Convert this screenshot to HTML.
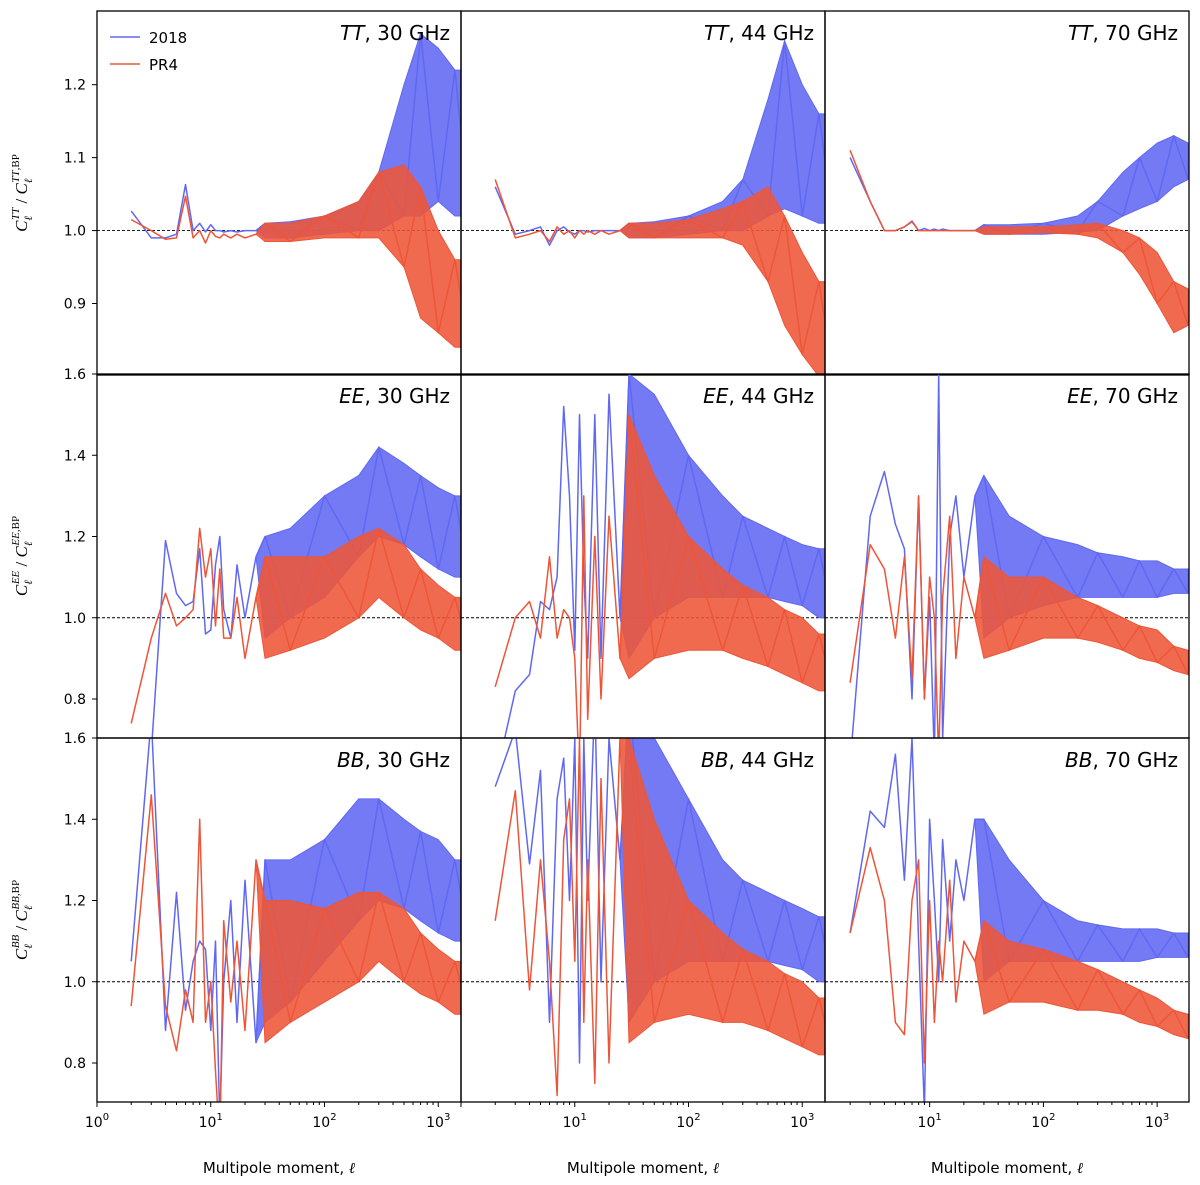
<!DOCTYPE html>
<html><head><meta charset="utf-8"><style>
html,body{margin:0;padding:0;background:#fff;}
svg{display:block;font-family:"DejaVu Sans","Liberation Sans",sans-serif;}
</style></head><body>
<svg id="chart" width="1200" height="1185" viewBox="0 0 1200 1185" xmlns="http://www.w3.org/2000/svg"></svg>
<script>
const NS="http://www.w3.org/2000/svg";
const lowL=[2,3,4,5,6,7,8,9,10,11,12,13,15,17,20,25];
const bandL=[30,50,100,200,300,500,700,1000,1400,1870];
const specs=["TT","EE","BB"];
const freqs=["30","44","70"];
const blueLow=[
 [[1.027,0.99,0.99,0.995,1.063,1.0,1.01,0.998,1.008,1.0,1.0,0.998,1.0,0.998,1.0,1.0],
  [1.06,0.995,1.0,1.005,0.98,1.0,1.005,0.998,0.995,1.0,1.0,0.998,1.0,1.0,1.0,1.0],
  [1.10,1.04,1.0,1.0,1.005,1.013,1.0,1.003,1.0,1.002,1.0,1.002,1.0,1.0,1.0,1.0]],
 [[0.6,0.67,1.19,1.06,1.03,1.04,1.17,0.96,0.97,1.13,1.2,1.02,0.95,1.13,1.0,1.15],
  [0.6,0.82,0.86,1.04,1.02,1.1,1.52,1.3,0.92,1.5,1.1,0.9,1.5,0.9,1.55,1.0],
  [0.64,1.25,1.36,1.23,1.17,0.8,1.3,0.8,1.05,0.65,1.6,0.7,1.2,1.3,1.1,1.3]],
 [[1.05,1.65,0.88,1.22,0.93,1.05,1.1,1.08,0.88,1.1,0.65,1.0,1.2,0.9,1.25,0.85],
  [1.48,1.62,1.29,1.52,0.9,1.45,1.55,1.2,1.6,0.8,1.6,1.2,1.7,1.0,1.6,1.3],
  [1.12,1.42,1.38,1.56,1.25,1.6,1.1,0.68,1.4,1.2,1.0,1.35,1.1,1.3,1.2,1.4]]];
const blueLo=[
 [[0.99,0.99,0.995,1.0,1.0,1.02,1.02,1.04,1.02,1.02],[0.99,0.99,0.995,1.0,1.0,1.02,1.03,1.02,1.01,1.01],[0.995,0.995,0.995,0.998,1.0,1.02,1.03,1.04,1.06,1.07]],
 [[0.95,1.0,1.05,1.15,1.2,1.18,1.15,1.12,1.1,1.1],[0.9,1.0,1.05,1.05,1.05,1.05,1.04,1.03,1.0,1.0],[0.95,1.0,1.03,1.05,1.05,1.05,1.05,1.05,1.06,1.06]],
 [[0.9,0.95,1.05,1.15,1.2,1.18,1.15,1.12,1.1,1.1],[0.9,1.0,1.05,1.05,1.05,1.05,1.04,1.03,1.0,1.0],[1.0,1.05,1.05,1.05,1.05,1.05,1.05,1.06,1.06,1.06]]];
const blueHi=[
 [[1.01,1.012,1.02,1.04,1.08,1.2,1.27,1.25,1.22,1.22],[1.01,1.012,1.02,1.04,1.07,1.18,1.26,1.2,1.16,1.16],[1.008,1.008,1.01,1.02,1.04,1.08,1.1,1.12,1.13,1.12]],
 [[1.2,1.22,1.3,1.35,1.42,1.38,1.35,1.32,1.3,1.3],[1.6,1.55,1.4,1.3,1.25,1.22,1.2,1.18,1.17,1.17],[1.35,1.25,1.2,1.18,1.16,1.15,1.14,1.14,1.12,1.12]],
 [[1.3,1.3,1.35,1.45,1.45,1.4,1.37,1.35,1.3,1.3],[1.7,1.6,1.45,1.3,1.25,1.22,1.2,1.18,1.16,1.16],[1.4,1.3,1.2,1.15,1.14,1.13,1.13,1.13,1.12,1.12]]];
const redLow=[
 [[1.015,1.0,0.988,0.99,1.047,0.99,1.0,0.983,1.0,0.992,0.99,0.995,0.99,0.995,0.99,0.995],
  [1.07,0.99,0.995,1.0,0.985,1.005,0.995,1.0,0.99,1.0,0.995,1.0,0.995,1.0,0.995,1.0],
  [1.11,1.04,1.0,1.0,1.005,1.012,1.0,1.0,1.0,1.0,1.0,1.0,1.0,1.0,1.0,1.0]],
 [[0.74,0.95,1.06,0.98,1.0,1.02,1.22,1.1,1.17,0.98,1.12,0.95,0.95,1.05,0.9,1.05],
  [0.83,1.0,1.04,0.95,1.15,0.95,1.02,1.0,0.9,0.6,1.3,0.75,1.2,0.8,1.25,0.9],
  [0.84,1.18,1.12,0.95,1.15,0.85,1.3,0.8,1.1,1.0,0.65,1.05,1.25,0.9,1.1,1.0]],
 [[0.94,1.46,0.94,0.83,0.98,0.9,1.4,0.9,1.0,0.78,0.6,1.15,0.95,1.1,0.88,1.3],
  [1.15,1.47,0.98,1.3,1.05,0.72,1.35,1.45,1.05,1.6,0.9,1.3,0.75,1.5,0.8,1.6],
  [1.12,1.33,1.2,0.9,0.87,1.2,1.3,0.8,1.2,0.9,1.1,1.0,1.25,0.95,1.1,1.05]]];
const redLo=[
 [[0.985,0.985,0.99,0.99,0.99,0.95,0.88,0.86,0.84,0.84],[0.99,0.99,0.99,0.99,0.98,0.93,0.87,0.83,0.8,0.8],[0.995,0.995,0.997,0.995,0.99,0.97,0.94,0.9,0.86,0.87]],
 [[0.9,0.92,0.95,1.0,1.05,1.0,0.97,0.95,0.92,0.92],[0.85,0.9,0.92,0.92,0.9,0.88,0.86,0.84,0.82,0.82],[0.9,0.92,0.95,0.95,0.94,0.92,0.9,0.89,0.87,0.86]],
 [[0.85,0.9,0.95,1.0,1.05,1.0,0.97,0.95,0.92,0.92],[0.85,0.9,0.92,0.9,0.9,0.88,0.86,0.84,0.82,0.82],[0.92,0.95,0.95,0.93,0.93,0.92,0.9,0.89,0.87,0.86]]];
const redHi=[
 [[1.01,1.01,1.02,1.04,1.08,1.09,1.06,1.0,0.96,0.96],[1.01,1.01,1.015,1.03,1.04,1.06,1.02,0.97,0.93,0.93],[1.005,1.005,1.005,1.008,1.01,1.0,0.99,0.97,0.93,0.92]],
 [[1.15,1.15,1.15,1.2,1.22,1.18,1.12,1.08,1.05,1.05],[1.5,1.35,1.2,1.12,1.08,1.05,1.02,1.0,0.96,0.96],[1.15,1.1,1.1,1.05,1.03,1.0,0.98,0.97,0.93,0.92]],
 [[1.2,1.2,1.18,1.22,1.22,1.18,1.12,1.08,1.05,1.05],[1.6,1.4,1.2,1.12,1.08,1.05,1.02,1.0,0.96,0.96],[1.15,1.1,1.08,1.05,1.03,1.0,0.98,0.96,0.93,0.92]]];
const yTicks=[[0.9,1.0,1.1,1.2],[0.8,1.0,1.2,1.4,1.6],[0.8,1.0,1.2,1.4,1.6]];
const yRange=[[0.802,1.301],[0.704,1.6],[0.704,1.6]];
const xTickExp=[[0,1,2,3],[1,2,3],[1,2,3]];

const colX=[97,461,825], colW=364;
const rowY=[11,374,738], rowH=364;
const xDom=[[0,3.2],[0,3.2],[0.08,3.28]];
const BLUE="#6068f2", RED="#ee5538";
const svg=document.getElementById('chart');
function mk(tag,attrs,parent){const e=document.createElementNS(NS,tag);for(const k in attrs)e.setAttribute(k,attrs[k]);(parent||svg).appendChild(e);return e;}
function xs(c,l){const d=xDom[c];return colX[c]+(Math.log10(l)-d[0])/(d[1]-d[0])*colW;}
function ys(r,v){const d=yRange[r];return rowY[r]+rowH-(v-d[0])/(d[1]-d[0])*rowH;}

const defs=mk('defs',{});
for(let r=0;r<3;r++)for(let c=0;c<3;c++){
  const cp=mk('clipPath',{id:'cp'+r+c},defs);
  mk('rect',{x:colX[c],y:rowY[r],width:colW,height:rowH},cp);
}

for(let r=0;r<3;r++)for(let c=0;c<3;c++){
  const g=mk('g',{'clip-path':'url(#cp'+r+c+')'});
  
  
  const ref=mk('line',{x1:colX[c],x2:colX[c]+colW,y1:ys(r,1),y2:ys(r,1),stroke:'#000','stroke-width':0.9,'stroke-dasharray':'3,2'},g);
  
  
  const series=[[blueLow,blueLo,blueHi,BLUE,'2018'],[redLow,redLo,redHi,RED,'pr4']];
  for(const [low,lo,hi,col,nm] of series){
    const L=low[r][c], LO=lo[r][c], HI=hi[r][c];
    let d='';
    lowL.forEach((l,i)=>{d+=(i?'L':'M')+xs(c,l).toFixed(1)+','+ys(r,L[i]).toFixed(1);});
    bandL.forEach((l,i)=>{const v=i%2?LO[i]:HI[i];d+='L'+xs(c,l).toFixed(1)+','+ys(r,v).toFixed(1);});
    const p=mk('path',{d:d,fill:'none',stroke:col,'stroke-width':1.5,'stroke-linejoin':'round'},g);
    
    
    const lastL=lowL[lowL.length-1], lastV=L[L.length-1];
    let bd='M'+xs(c,lastL).toFixed(1)+','+ys(r,lastV).toFixed(1);
    bandL.forEach((l,i)=>{bd+='L'+xs(c,l).toFixed(1)+','+ys(r,HI[i]).toFixed(1);});
    for(let i=bandL.length-1;i>=0;i--)bd+='L'+xs(c,bandL[i]).toFixed(1)+','+ys(r,LO[i]).toFixed(1);
    bd+='Z';
    const b=mk('path',{d:bd,fill:col,'fill-opacity':0.88,stroke:col,'stroke-width':1},g);
    
    
  }
  const fr=mk('rect',{x:colX[c],y:rowY[r],width:colW,height:rowH,fill:'none',stroke:'#000','stroke-width':1.3});
  
  
  const t=mk('text',{x:colX[c]+colW-11,y:rowY[r]+29,'text-anchor':'end','font-size':20,fill:'#000'});
  
  
  const ti=mk('tspan',{'font-style':'italic'},t);ti.textContent=specs[r];
  const t2=mk('tspan',{},t);t2.textContent=', '+freqs[c]+' GHz';
}

for(let r=0;r<3;r++){
  yTicks[r].forEach(v=>{
    const y=ys(r,v);
    mk('line',{x1:92,x2:97,y1:y,y2:y,stroke:'#000','stroke-width':1});
    const t=mk('text',{x:86,y:y+5,'text-anchor':'end','font-size':14,fill:'#000'});
    
    
    t.textContent=v.toFixed(1);
  });
  const cy=rowY[r]+rowH/2;
  const yl=mk('text',{transform:'translate(27,'+cy+') rotate(-90)','text-anchor':'middle','font-size':17,fill:'#000','font-family':'Liberation Serif, serif'});
  
  
  const s=specs[r];
  yl.innerHTML='<tspan font-style="italic">C</tspan><tspan font-size="11" dy="5" font-style="italic">ℓ</tspan><tspan font-size="11" dy="-13" dx="-4" font-style="italic">'+s+'</tspan><tspan dy="8"> / </tspan><tspan font-style="italic">C</tspan><tspan font-size="11" dy="5" font-style="italic">ℓ</tspan><tspan font-size="11" dy="-13" dx="-4"><tspan font-style="italic">'+s+'</tspan>,BP</tspan>';
}
for(let c=0;c<3;c++){
  const yb=rowY[2]+rowH;
  for(let e=0;e<=3;e++)for(let m=1;m<10;m++){
    const l=m*Math.pow(10,e);const lg=Math.log10(l);
    if(lg<xDom[c][0]-1e-9||lg>xDom[c][1])continue;
    const x=xs(c,l);
    mk('line',{x1:x,x2:x,y1:yb,y2:yb+(m===1?5:3),stroke:'#000','stroke-width':1});
  }
  xTickExp[c].forEach(e=>{
    const x=xs(c,Math.pow(10,e));
    const t=mk('text',{x:x,y:yb+25,'text-anchor':'middle','font-size':14,fill:'#000'});
    
    
    t.innerHTML='10<tspan font-size="10" dy="-7">'+e+'</tspan>';
  });
  const xl=mk('text',{x:colX[c]+colW/2,y:1173,'text-anchor':'middle','font-size':15,fill:'#000'});
  
  
  xl.innerHTML='Multipole moment, <tspan font-style="italic" font-family="Liberation Serif, serif">ℓ</tspan>';
}
const leg=mk('g',{});


[['2018',BLUE,37],['PR4',RED,64]].forEach(([n,col,y])=>{
  const e=mk('g',{},leg);
  
  
  mk('line',{x1:110,x2:140,y1:y,y2:y,stroke:col,'stroke-width':1.6},e);
  const t=mk('text',{x:149,y:y+6,'font-size':15,fill:'#000'},e);t.textContent=n;
});
</script>
</body></html>
